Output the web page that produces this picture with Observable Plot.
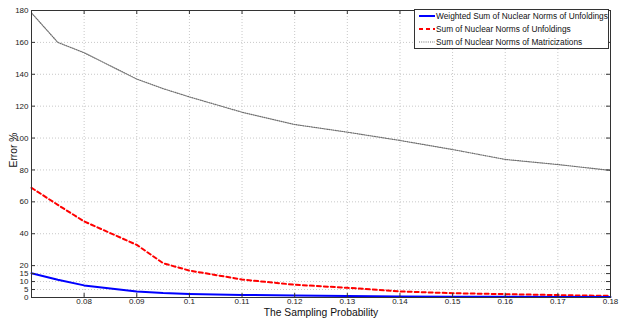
<!DOCTYPE html>
<html>
<head>
<meta charset="utf-8">
<script src="https://cdn.jsdelivr.net/npm/d3@7"></script>
<script src="https://cdn.jsdelivr.net/npm/@observablehq/plot@0.6"></script>
<style>
  html, body { margin: 0; padding: 0; background: #fff; }
  #wrap { position: relative; width: 621px; height: 321px; font-family: "Liberation Sans", Arial, sans-serif; }
  #legend { position: absolute; left: 414px; top: 9px; width: 195px; height: 40px; border: 1px solid #333; background: #fff; box-sizing: border-box; font-size: 8.3px; color: #111; }
  .row { position: absolute; left: 0; height: 12px; line-height: 12px; white-space: nowrap; }
  .row svg { position: absolute; left: 4px; top: 0; }
  .row span { position: absolute; left: 21px; top: 0; }
</style>
</head>
<body>
<div id="wrap"></div>
<script>
// Data
const probs = [0.07, 0.075, 0.08, 0.09, 0.095, 0.1, 0.11, 0.12, 0.13, 0.14, 0.15, 0.16, 0.17, 0.18];
const weightedUnfold = [15.2, 11.1, 7.6, 3.8, 2.8, 2.2, 1.6, 1.2, 0.9, 0.6, 0.5, 0.4, 0.3, 0.3];
const sumUnfold = [68.8, 58.1, 47.7, 33.0, 21.5, 16.9, 11.3, 8.0, 6.1, 3.8, 2.7, 2.1, 1.5, 1.0];
const sumMatric = [178.5, 160, 153.5, 137.0, 131.0, 125.8, 116.2, 108.5, 103.7, 98.5, 92.8, 86.6, 83.4, 79.7];
const seriesNames = ["Weighted Sum of Nuclear Norms of Unfoldings", "Sum of Nuclear Norms of Unfoldings", "Sum of Nuclear Norms of Matricizations"];
const xTicks = [0.08, 0.09, 0.1, 0.11, 0.12, 0.13, 0.14, 0.15, 0.16, 0.17, 0.18];
const yTicks = [0, 5, 10, 15, 20, 40, 60, 80, 100, 120, 140, 160, 180];
const xLabel = "The Sampling Probability";
const yLabel = "Error %";

const styles = [
  {stroke: "#0000ff", strokeWidth: 2, dash: null},
  {stroke: "#ff0000", strokeWidth: 2, dash: "4,3"},
  {stroke: "#707070", strokeWidth: 1.2, dash: "1,1.2"}
];
const seriesValues = [weightedUnfold, sumUnfold, sumMatric];

const W = 621, H = 321, mL = 31, mR = 11, mT = 10, mB = 24;
const pw = W - mL - mR, ph = H - mT - mB;
const tick = 4;

const lineMarks = seriesValues.map((vals, i) => {
  const data = probs.map((p, j) => ({p, v: vals[j]}));
  return Plot.line(data, {x: "p", y: "v", stroke: styles[i].stroke, strokeWidth: styles[i].strokeWidth, strokeDasharray: styles[i].dash});
}).reverse();

const chart = Plot.plot({
  width: W, height: H,
  marginLeft: mL, marginRight: mR, marginTop: mT, marginBottom: mB,
  style: {fontFamily: "'Liberation Sans', Arial, sans-serif", fontSize: "8px", color: "#222", background: "white", overflow: "visible"},
  x: {domain: [0.07, 0.18]},
  y: {domain: [0, 180]},
  marks: [
    Plot.ruleX(xTicks, {x: d => d, stroke: "#c8c8c8", strokeDasharray: "1,2"}),
    Plot.ruleY(yTicks, {y: d => d, stroke: "#c8c8c8", strokeDasharray: "1,2"}),
    ...lineMarks,
    Plot.frame({stroke: "#333"}),
    // inward ticks on all four sides
    Plot.ruleX(xTicks, {x: d => d, stroke: "#333", insetTop: ph - tick}),
    Plot.ruleX(xTicks, {x: d => d, stroke: "#333", insetBottom: ph - tick}),
    Plot.ruleY(yTicks, {y: d => d, stroke: "#333", insetRight: pw - tick}),
    Plot.ruleY(yTicks, {y: d => d, stroke: "#333", insetLeft: pw - tick}),
    Plot.axisX(xTicks, {tickSize: 0, tickPadding: 1, tickFormat: d => String(+d.toFixed(2)), label: null}),
    Plot.axisY(yTicks, {tickSize: 0, tickPadding: 3, tickFormat: d => String(d), label: null}),
    Plot.text([xLabel], {frameAnchor: "bottom", textAnchor: "middle", dy: 18, fontSize: 10.3, fill: "#111"}),
    Plot.text([yLabel], {frameAnchor: "left", textAnchor: "middle", dx: -18, dy: -4, rotate: -90, fontSize: 10.3, fill: "#111"})
  ]
});

const wrap = document.getElementById("wrap");
wrap.appendChild(chart);

const legend = document.createElement("div");
legend.id = "legend";
seriesNames.forEach((name, i) => {
  const row = document.createElement("div");
  row.className = "row";
  row.style.top = (-0.3 + i * 13.3) + "px";
  const s = styles[i];
  row.innerHTML = `<svg width="16" height="12"><line x1="0" x2="16" y1="6" y2="6" stroke="${s.stroke}" stroke-width="${s.strokeWidth}" ${s.dash ? `stroke-dasharray="${s.dash}"` : ""}/></svg><span></span>`;
  row.querySelector("span").textContent = name;
  legend.appendChild(row);
});
wrap.appendChild(legend);
</script>
</body>
</html>
